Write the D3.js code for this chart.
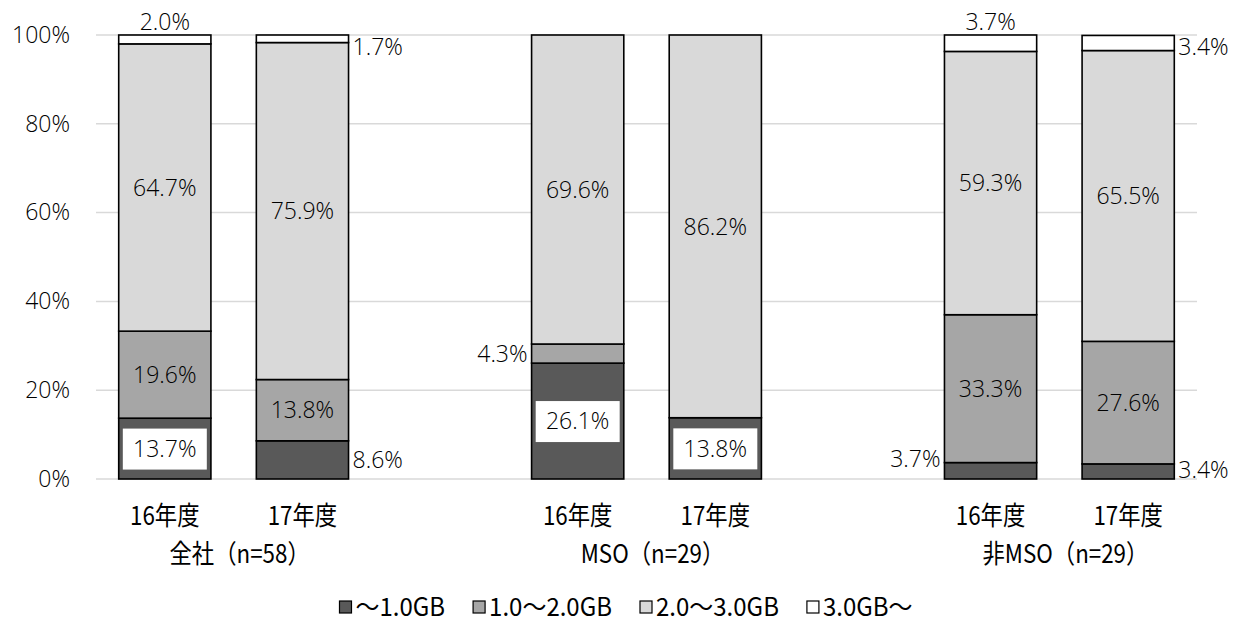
<!DOCTYPE html>
<html>
<head>
<meta charset="utf-8">
<script src="https://cdn.jsdelivr.net/npm/d3@7"></script>
<style>
  body { margin: 0; background: #fff; }
  svg text { font-family: "Noto Sans CJK JP", "Noto Sans", sans-serif; fill: #000; }
  .num { font-family: "Open Sans", "Noto Sans", sans-serif; font-weight: 300; fill: #000; }
</style>
</head>
<body>
<svg id="chart" width="1247" height="624"></svg>
<script>
// Categories (blank slots separate the three groups)
const slots = ["g1-16", "g1-17", "gap1", "g2-16", "g2-17", "gap2", "g3-16", "g3-17"];
const yearLabels = ["16年度", "17年度", "", "16年度", "17年度", "", "16年度", "17年度"];
const groupLabels = ["全社（n=58）", "MSO（n=29）", "非MSO（n=29）"];
const seriesNames = ["～1.0GB", "1.0～2.0GB", "2.0～3.0GB", "3.0GB～"];
const seriesColors = ["#595959", "#a6a6a6", "#d9d9d9", "#ffffff"];

// Shares (%) per bar, bottom to top
const upTo1GB   = [13.7,  8.6, null, 26.1, 13.8, null,  3.7,  3.4];
const from1to2  = [19.6, 13.8, null,  4.3,  0.0, null, 33.3, 27.6];
const from2to3  = [64.7, 75.9, null, 69.6, 86.2, null, 59.3, 65.5];
const over3GB   = [ 2.0,  1.7, null,  0.0,  0.0, null,  3.7,  3.4];
const yTicks = [0, 20, 40, 60, 80, 100];

// Label placement for each bar/segment: c = inside, box = inside on white box,
// top = above bar, r = right of bar, l = left of bar, "" = none
const labelPos = [
  ["box", "c", "c", "top"],
  ["r",   "c", "c", "r"],
  null,
  ["box", "l", "c", ""],
  ["box", "",  "c", ""],
  null,
  ["l",   "c", "c", "top"],
  ["r",   "c", "c", "r"]
];

const series = [upTo1GB, from1to2, from2to3, over3GB];

const svg = d3.select("#chart");
const margin = { left: 96, right: 50, top: 35, bottom: 145 };
const W = 1247, H = 624;

const x = d3.scaleBand().domain(slots).range([margin.left, W - margin.right]).paddingInner(0.33).paddingOuter(0.165);
const y = d3.scaleLinear().domain([0, 100]).range([H - margin.bottom, margin.top]);

// gridlines
svg.append("g").selectAll("line").data(yTicks).join("line")
  .attr("x1", margin.left).attr("x2", W - margin.right)
  .attr("y1", d => y(d)).attr("y2", d => y(d))
  .attr("stroke", "#d9d9d9").attr("stroke-width", 1.5);

// y axis labels
const yAxis = d3.axisLeft(y).tickValues(yTicks).tickFormat(d => d + "%").tickSize(0).tickPadding(26);
const ya = svg.append("g").attr("transform", `translate(${margin.left},0)`).call(yAxis);
ya.select(".domain").remove();
ya.selectAll("text").attr("class", "num").attr("font-size", 23).attr("font-family", null);

// stacked data
const rows = slots.map((s, i) => {
  if (upTo1GB[i] === null) return null;
  let acc = 0;
  return series.map((ser, k) => {
    const v = ser[i];
    const seg = { slot: s, i, k, v, y0: acc, y1: acc + v, pos: labelPos[i][k] };
    acc += v;
    return seg;
  });
}).filter(r => r);
const segs = rows.flat();

// bars
svg.append("g").selectAll("rect").data(segs.filter(d => d.v > 0)).join("rect")
  .attr("x", d => x(d.slot))
  .attr("width", x.bandwidth())
  .attr("y", d => y(d.y1))
  .attr("height", d => y(d.y0) - y(d.y1))
  .attr("fill", d => seriesColors[d.k])
  .attr("stroke", "#000").attr("stroke-width", 1.6);

// value labels
const lab = svg.append("g");
const fmt = v => v.toFixed(1) + "%";
segs.filter(d => d.pos).forEach(d => {
  const cx = x(d.slot) + x.bandwidth() / 2;
  const cy = (y(d.y0) + y(d.y1)) / 2;
  let tx = cx, ty = cy, anchor = "middle";
  if (d.pos === "top") { ty = y(100) - 13; }
  else if (d.pos === "r") {
    tx = x(d.slot) + x.bandwidth() + 4; anchor = "start";
    if (d.k === 3) ty = y(100) + 12;
    if (d.k === 0 && d.v < 5) ty = y(0) - 9;
  }
  else if (d.pos === "l") {
    tx = x(d.slot) - 4; anchor = "end";
    if (d.k === 0 && d.v < 5) ty = y(0) - 20;
  }
  if (d.pos === "box") {
    lab.append("rect")
      .attr("x", cx - 42).attr("y", cy - 20)
      .attr("width", 84).attr("height", 41)
      .attr("fill", "#fff");
  }
  lab.append("text")
    .attr("class", "num")
    .attr("x", tx).attr("y", ty)
    .attr("dy", "0.36em")
    .attr("text-anchor", anchor)
    .attr("font-size", 23)
    .text(fmt(d.v));
});

// category labels (slightly condensed)
const catY = 516, groupY = 554;
svg.append("g").selectAll("text").data(slots).join("text")
  .attr("transform", d => `translate(${x(d) + x.bandwidth() / 2},${catY}) scale(0.86,1)`)
  .attr("dy", "0.36em")
  .attr("text-anchor", "middle")
  .attr("font-size", 26)
  .text((d, i) => yearLabels[i]);

// group labels, centred between the two bars of each group
const groupPairs = [["g1-16", "g1-17"], ["g2-16", "g2-17"], ["g3-16", "g3-17"]];
svg.append("g").selectAll("text").data(groupPairs).join("text")
  .attr("transform", d => `translate(${(x(d[0]) + x(d[1]) + x.bandwidth()) / 2 + 6},${groupY}) scale(0.86,1)`)
  .attr("dy", "0.36em")
  .attr("text-anchor", "middle")
  .attr("font-size", 26)
  .text((d, i) => groupLabels[i]);

// legend, laid out from measured text widths and centred
const legend = svg.append("g");
const items = legend.selectAll("g").data(seriesNames).join("g");
const lgScale = 0.96, lgGap = 28;
items.append("rect").attr("x", 0).attr("y", -6).attr("width", 12).attr("height", 12)
  .attr("fill", (d, i) => seriesColors[i]).attr("stroke", "#000").attr("stroke-width", 1.2);
items.append("text")
  .attr("transform", `translate(16,0) scale(${lgScale},1)`)
  .attr("dy", "0.36em")
  .attr("font-size", 25).text(d => d);
let lx = 0;
items.each(function () {
  const g = d3.select(this);
  const tw = g.select("text").node().getComputedTextLength() * lgScale;
  g.attr("transform", `translate(${lx},0)`);
  lx += 16 + tw + lgGap;
});
const totalW = lx - lgGap;
legend.attr("transform", `translate(${626 - totalW / 2},607)`);
</script>
</body>
</html>
